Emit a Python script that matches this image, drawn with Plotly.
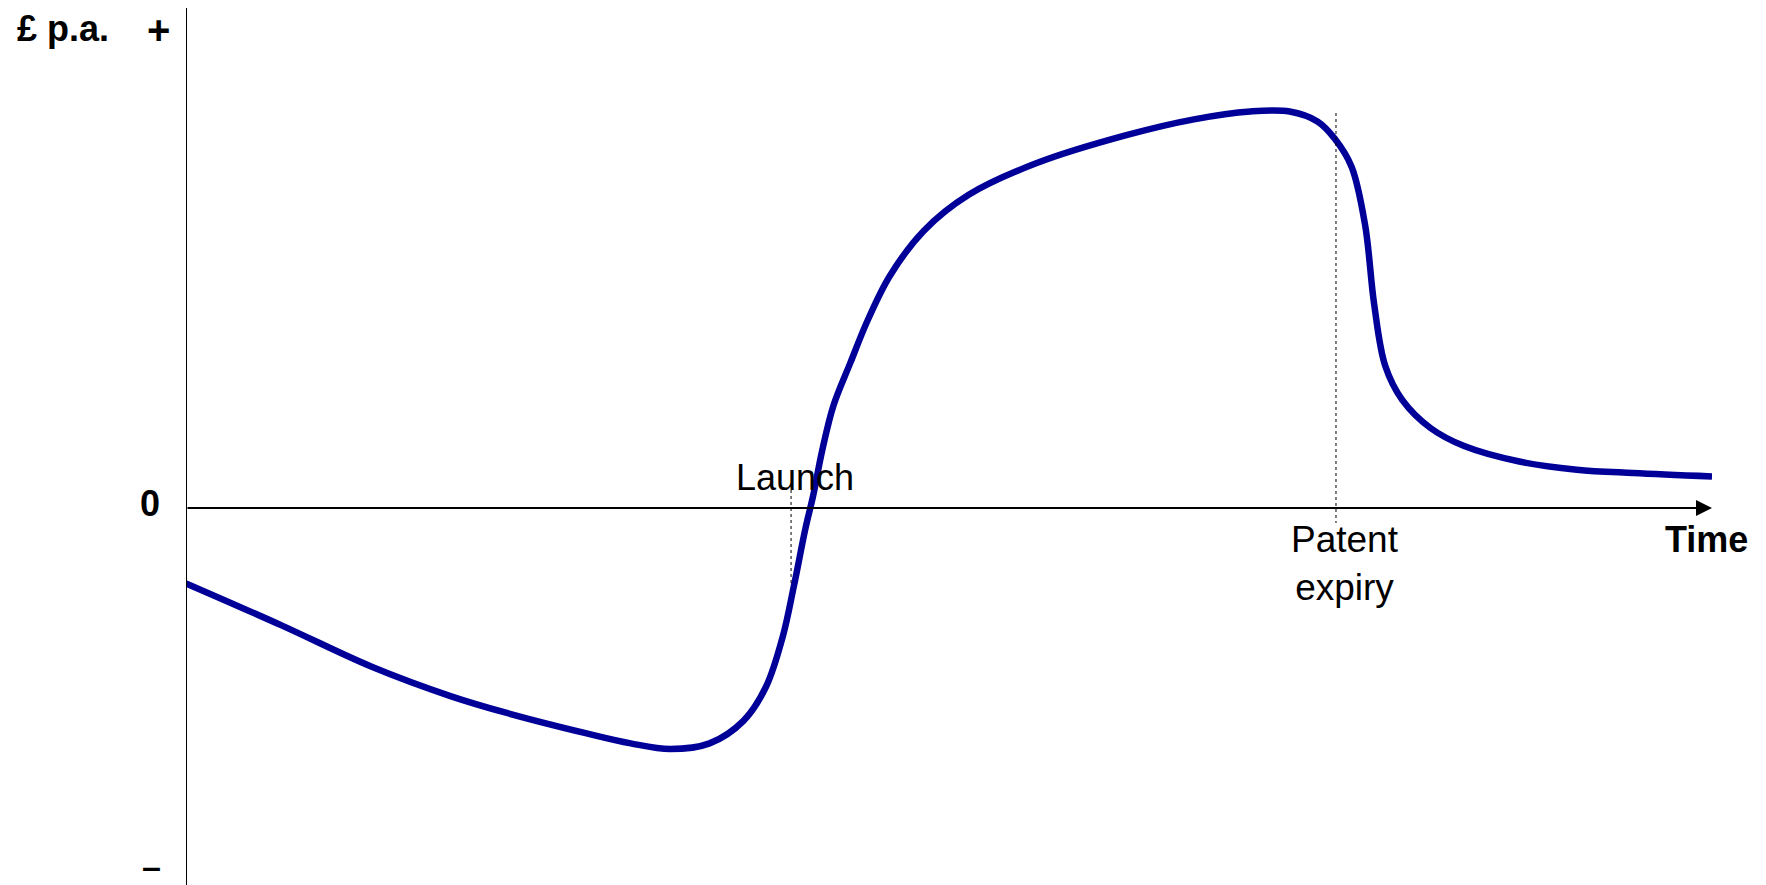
import plotly.graph_objects as go

# Time (0 = start of axis, 100 = arrow tip) and annual cash flow (index units)
time = [0, 6.26, 12.17, 17.33, 21.02, 26.19, 29.14, 31.72, 34.31, 36.53, 38.00,
        39.11, 39.84, 40.58, 41.10, 41.69, 42.43, 43.54, 44.65, 46.12, 48.34,
        51.29, 55.71, 61.62, 66.05, 69.74, 72.32, 74.17, 75.27, 76.38, 77.27,
        77.86, 78.59, 79.70, 81.55, 83.76, 87.45, 91.14, 94.83, 100]
cash = [-15.08, -23.47, -31.75, -37.61, -40.99, -45.03, -47.07, -48.20, -47.07,
        -42.57, -35.81, -25.67, -15.53, -4.27, 2.49, 11.50, 20.51, 29.07, 37.40,
        46.41, 55.42, 62.64, 68.94, 74.57, 77.73, 79.30, 79.30, 77.27, 73.89,
        68.26, 56.55, 40.78, 28.39, 21.63, 16.00, 12.39, 9.24, 7.67, 6.99, 6.31]

launch_t = 39.65
launch_span = [3.6, -15.5]
expiry_t = 75.36
expiry_span = [79.0, -3.0]

y_range = [-75.4, 100]
x_range = [0, 100]

FONT = "Liberation Sans, Arial, sans-serif"
CURVE = "#000099"

fig = go.Figure()
fig.add_trace(go.Scatter(x=time, y=cash, mode="lines",
                         line=dict(color=CURVE, width=6.5, shape="spline", smoothing=1.0),
                         hoverinfo="skip", showlegend=False))

shapes = [
    # y axis line
    dict(type="line", xref="x", yref="paper", x0=0, x1=0, y0=-0.02, y1=1,
         line=dict(color="black", width=2)),
    # launch dotted marker
    dict(type="line", xref="x", yref="y", x0=launch_t, x1=launch_t,
         y0=launch_span[0], y1=launch_span[1], line=dict(color="black", width=1, dash="dot")),
    # patent expiry dotted marker
    dict(type="line", xref="x", yref="y", x0=expiry_t, x1=expiry_t,
         y0=expiry_span[0], y1=expiry_span[1], line=dict(color="black", width=1, dash="dot")),
]

annotations = [
    # x axis with arrow
    dict(x=x_range[1], y=0, ax=0, ay=0, xref="x", yref="y", axref="x", ayref="y",
         showarrow=True, arrowhead=2, arrowsize=1.6, arrowwidth=2, arrowcolor="black",
         standoff=0, startstandoff=0, text=""),
    dict(text="<b>£ p.a.</b>", xref="paper", yref="paper", x=-0.0806, y=0.977,
         xanchor="center", yanchor="middle", showarrow=False,
         font=dict(family=FONT, size=36, color="black")),
    dict(text="<b>+</b>", xref="paper", yref="paper", x=-0.0183, y=0.975,
         xanchor="center", yanchor="middle", showarrow=False,
         font=dict(family=FONT, size=40, color="black")),
    dict(text="<b>0</b>", xref="paper", yref="y", x=-0.0236, y=1.0,
         xanchor="center", yanchor="middle", showarrow=False,
         font=dict(family=FONT, size=36, color="black")),
    dict(text="<b>–</b>", xref="paper", yref="paper", x=-0.0229, y=0.022,
         xanchor="center", yanchor="middle", showarrow=False,
         font=dict(family=FONT, size=34, color="black")),
    dict(text="Launch", xref="x", yref="y", x=launch_t, y=6.2,
         xanchor="center", yanchor="middle", showarrow=False, xshift=4,
         font=dict(family=FONT, size=36, color="black")),
    dict(text="Patent<br>expiry", xref="x", yref="y", x=expiry_t, y=-11,
         xanchor="center", yanchor="middle", showarrow=False, xshift=9,
         font=dict(family=FONT, size=37, color="black")),
    dict(text="<b>Time</b>", xref="x", yref="y", x=99.67, y=-6.3,
         xanchor="center", yanchor="middle", showarrow=False,
         font=dict(family=FONT, size=36, color="black")),
]

# the page body adds an 8px offset; margins compensate so the plot sits where the reference has it
fig.update_layout(
    width=1766, height=885,
    margin=dict(l=178, r=62, t=0, b=8),
    paper_bgcolor="white", plot_bgcolor="white",
    xaxis=dict(range=x_range, visible=False, fixedrange=True),
    yaxis=dict(range=y_range, visible=False, fixedrange=True),
    shapes=shapes, annotations=annotations,
    showlegend=False,
)

fig.write_html("out.html")
